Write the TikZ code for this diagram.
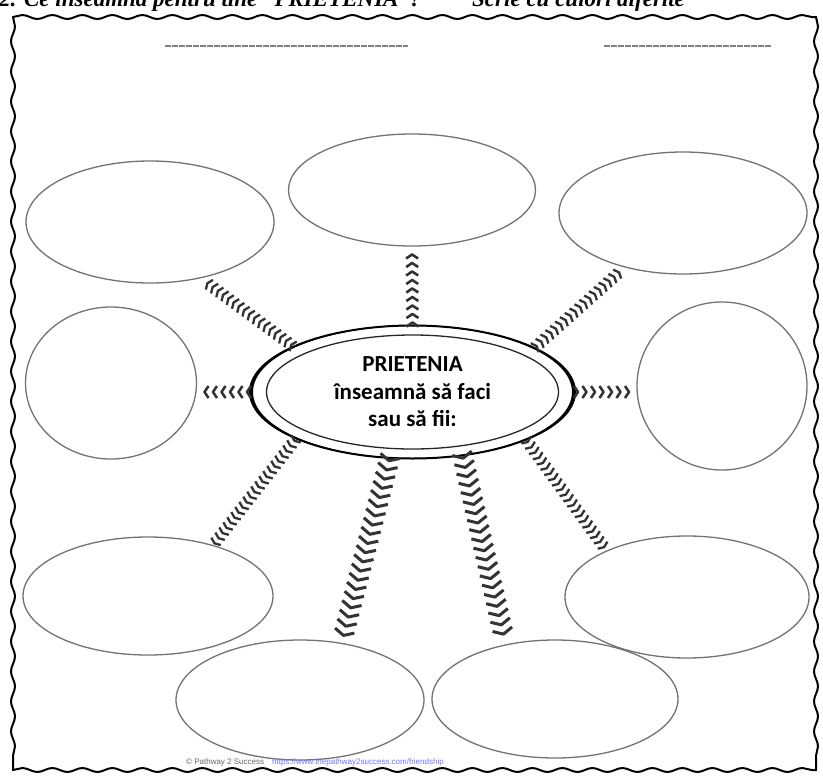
\documentclass[tikz,border=0pt]{standalone}
\usepackage{fontspec}
\setmainfont{Liberation Serif}
\newfontfamily\carlito{Carlito}
\newfontfamily\libsans{Liberation Sans}
\usetikzlibrary{shapes.geometric,decorations.markings,decorations.pathmorphing}
\begin{document}
\begin{tikzpicture}[x=1pt,y=-1pt,
  bubble/.style={ellipse, draw=black!55, line width=1.3pt, inner sep=0pt},
  centerell/.style={ellipse, draw=black, line width=2pt, inner sep=0pt,
     minimum width=325pt, minimum height=133pt, align=center,
     font=\carlito\bfseries\fontsize{23}{27.5}\selectfont},
  chev/.style n args={4}{decoration={markings,
     mark=between positions 2pt and -2pt step #1 with
     {\draw[black!80, line width=#4, line cap=butt, line join=round] (-#2,-#3) -- (0,0) -- (-#2,#3);}},
     postaction={decorate}},
  chevS/.style={chev={6.5pt}{2.5pt}{6pt}{2.3pt}},
  chevM/.style={chev={8.5pt}{4pt}{6pt}{2.6pt}},
  chevL/.style={chev={9.5pt}{5pt}{10pt}{3pt}},
  frame/.style={draw=black, line width=2pt, line cap=round, decorate,
     decoration={snake, segment length=30pt, amplitude=2pt}},
  topline/.style={draw=black!50, line width=2.6pt, dash pattern=on 6pt off 1pt},
  title/.style={font=\bfseries\itshape\fontsize{23}{28}\selectfont, inner sep=0pt}
]
\useasboundingbox (0,0) rectangle (823,777);
\fill[white] (0,0) rectangle (823,777);

% title line, cut off at the top as in the scan
\node[title, anchor=base west] (q) at (-1,6) {2. Ce înseamnă pentru tine “PRIETENIA”?};
\node[title, anchor=base west] (s) at (472,6) {Scrie cu culori diferite};

% frame corners
\coordinate (k1) at (13,17);
\coordinate (k2) at (816,17);
\coordinate (k3) at (816,770);
\coordinate (k4) at (13,770);
\path[frame] (k1) -- (k2);
\path[frame] (k2) -- (k3);
\path[frame] (k4) -- (k3);
\path[frame] (k1) -- (k4);

% top lines
\draw[topline] (165,46) -- (408,46);
\draw[topline] (604,46) -- (772,46);

% center
\node[centerell] (c) at (412.5,392) {PRIETENIA\\înseamnă să faci\\sau să fii:};
\fill[black, even odd rule] (412.5,392) ellipse [x radius=162.5pt, y radius=66.5pt]
      (412.5,392) ellipse [x radius=159.5pt, y radius=66pt];
\draw[black!85, line width=1.3pt] (412.5,392) ellipse [x radius=146pt, y radius=57pt];

% outer bubbles
\node[bubble, minimum width=247pt, minimum height=112pt] (t)   at (412,190) {};
\node[bubble, minimum width=248pt, minimum height=122pt] (tl)  at (150,222) {};
\node[bubble, minimum width=248pt, minimum height=122pt] (tr)  at (683,213) {};
\node[bubble, minimum width=171pt, minimum height=152pt] (ml)  at (111,383) {};
\node[bubble, minimum width=170pt, minimum height=168pt] (mr)  at (722,386) {};
\node[bubble, minimum width=250pt, minimum height=118pt] (bl)  at (148,596) {};
\node[bubble, minimum width=244pt, minimum height=122pt] (br)  at (687,597) {};
\node[bubble, minimum width=248pt, minimum height=120pt] (bcl) at (300,700) {};
\node[bubble, minimum width=246pt, minimum height=118pt] (bcr) at (555,699) {};

% connectors
\path[chevM] (c.90) -- (t.-90);
\path[chevS] (c.159) -- (tl.-48);
\path[chevS] (c.20) -- (tr.-137);
\path[chevM] (c.180) -- (c.180 -| ml.east);
\path[chevM] (c.0) -- (c.0 -| mr.west);
\path[chevS] (c.-158) -- (bl.38);
\path[chevS] (c.-23) -- (br.150);
\path[chevL] (c.-109) -- (bcl.54);
\path[chevL] (c.-52) -- (bcr.132);

% footer
\node[anchor=base west, inner sep=0pt, font=\libsans\fontsize{8}{9}\selectfont] (f) at (186,764)
  {\textcolor{black!60}{© Pathway 2 Success}\quad\textcolor{blue!55}{https://www.thepathway2success.com/friendship}};
\end{tikzpicture}
\end{document}
